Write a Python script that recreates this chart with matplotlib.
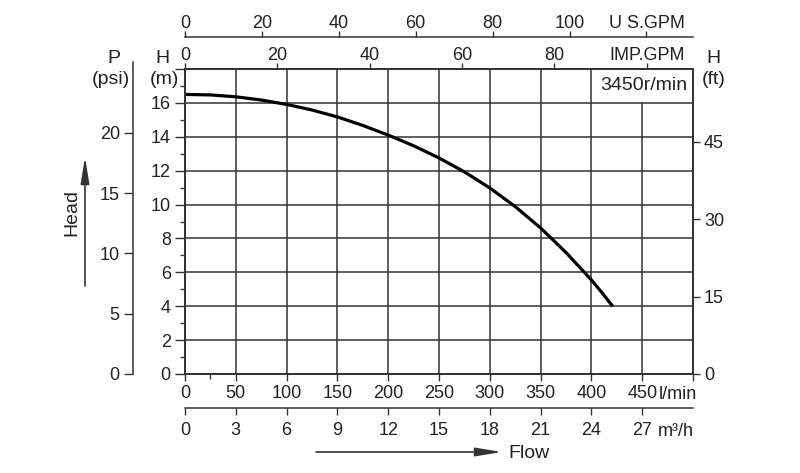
import matplotlib.pyplot as plt
from matplotlib.patches import Rectangle

plt.rcParams['font.family'] = ['Liberation Sans', 'DejaVu Sans']

# pump curve (flow in l/min, head in m)
flow_lpm = [0, 25, 50, 75, 100, 125, 150, 175, 200, 225, 250, 275, 300,
            325, 350, 375, 400, 410, 420]
head_m = [16.5, 16.47, 16.36, 16.17, 15.91, 15.58, 15.17, 14.67, 14.1, 13.47,
          12.75, 11.93, 10.98, 9.88, 8.62, 7.17, 5.55, 4.83, 4.07]

lpm_ticks = list(range(0, 501, 50))
lpm_labels = [str(v) for v in lpm_ticks[:-1]] + ['']
m3h_ticks = list(range(0, 28, 3))
head_ticks = list(range(0, 19, 2))
head_labels = [str(v) for v in head_ticks[:-1]] + ['']
psi_ticks = [0, 5, 10, 15, 20]
ft_ticks = [0, 15, 30, 45]
us_ticks = [0, 20, 40, 60, 80, 100, 120]
us_labels = ['0', '20', '40', '60', '80', '100', 'U S.GPM']
imp_ticks = [0, 20, 40, 60, 80, 100]
imp_labels = ['0', '20', '40', '60', '80', 'IMP.GPM']
speed = '3450r/min'

L_PER_USGAL = 3.785
L_PER_IMPGAL = 4.546
M_PER_FT = 0.3048
PSI_PER_M = 1.405

LINE = '#333333'
TXT = '#222222'
FS = 13

W, H = 800, 473
fig = plt.figure(figsize=(8, 4.73), dpi=100)


def fx(px):
    return px / W


def fy(py):
    return 1 - py / H


x0, x1, y0, y1 = 185, 693, 374, 69
ax = fig.add_axes([fx(x0), fy(y0), (x1 - x0) / W, (y0 - y1) / H])
ax.set_xlim(0, 500)
ax.set_ylim(0, 18)
ax.set_xticks(lpm_ticks, lpm_labels)
ax.set_yticks(head_ticks, head_labels)
ax.set_xticks([25], minor=True)
ax.set_yticks(range(1, 18, 2), minor=True)
ax.grid(True, which='major', color=LINE, lw=1.1)
ax.tick_params(which='major', direction='out', color=LINE, labelcolor=TXT,
               labelsize=FS, width=1)
ax.tick_params(axis='y', which='major', length=7.2, pad=3)
ax.tick_params(axis='x', which='major', length=5, pad=3)
ax.tick_params(which='minor', direction='out', color=LINE, length=3.5, width=1)
for s in ax.spines.values():
    s.set_color(LINE)
    s.set_linewidth(1.1)

ax.add_patch(Rectangle((401, 16.06), 98, 1.88, fc='white', ec='none', zorder=2))
ax.text(494, 17.0, speed, ha='right', va='center', fontsize=14, color=TXT, zorder=3)
ax.plot(flow_lpm, head_m, color='black', lw=2.3, zorder=4)

# right axis: head in ft
ax_ft = ax.twinx()
ax_ft.set_ylim(0, 18 / M_PER_FT)
ax_ft.set_yticks(ft_ticks)
ax_ft.tick_params(axis='y', direction='out', length=5, width=1, color=LINE,
                  labelcolor=TXT, labelsize=FS, pad=3)
for s in ax_ft.spines.values():
    s.set_color(LINE)
    s.set_linewidth(1.1)

# top axis: imperial gpm on the frame
ax_imp = ax.twiny()
ax_imp.set_xlim(0, 500 / L_PER_IMPGAL)
ax_imp.set_xticks(imp_ticks, imp_labels)
ax_imp.tick_params(axis='x', direction='out', length=4.3, width=1, color=LINE,
                   labelcolor=TXT, labelsize=FS, pad=-1)
for s in ax_imp.spines.values():
    s.set_color(LINE)
    s.set_linewidth(1.1)

# top axis: US gpm, offset upward
ax_us = ax.twiny()
ax_us.set_xlim(0, 500 / L_PER_USGAL)
ax_us.set_xticks(us_ticks, us_labels)
ax_us.spines['top'].set_position(('outward', 32 * 0.72))
for k in ['left', 'right', 'bottom']:
    ax_us.spines[k].set_visible(False)
ax_us.spines['top'].set_color(LINE)
ax_us.spines['top'].set_linewidth(1.1)
ax_us.tick_params(axis='x', direction='out', length=4.3, width=1, color=LINE,
                  labelcolor=TXT, labelsize=FS, pad=-1)

# bottom axis: m3/h, offset downward
ax_m3 = ax.twiny()
ax_m3.set_xlim(0, 30)
ax_m3.xaxis.set_ticks_position('bottom')
ax_m3.xaxis.set_label_position('bottom')
ax_m3.set_xticks(m3h_ticks)
ax_m3.spines['bottom'].set_position(('outward', 34 * 0.72))
for k in ['left', 'right', 'top']:
    ax_m3.spines[k].set_visible(False)
ax_m3.spines['bottom'].set_color(LINE)
ax_m3.spines['bottom'].set_linewidth(1.1)
ax_m3.tick_params(axis='x', direction='out', length=5, width=1, color=LINE,
                  labelcolor=TXT, labelsize=FS, pad=5)

# left axis: pressure in psi
top_p = 62
ext_m = 18 * (y0 - top_p) / (y0 - y1)
ax_p = fig.add_axes([fx(133), fy(y0), 0.01, (y0 - top_p) / H])
ax_p.patch.set_visible(False)
ax_p.set_ylim(0, ext_m * PSI_PER_M)
ax_p.set_yticks(psi_ticks)
ax_p.set_xticks([])
for k in ['right', 'top', 'bottom']:
    ax_p.spines[k].set_visible(False)
ax_p.spines['left'].set_color(LINE)
ax_p.spines['left'].set_linewidth(1.1)
ax_p.tick_params(axis='y', direction='out', length=6.5, width=1, color=LINE,
                 labelcolor=TXT, labelsize=FS, pad=3)

# axis captions
def label(px, py, s, size=14, **kw):
    fig.text(fx(px), fy(py), s, ha='center', va='center', fontsize=size, color=TXT, **kw)


label(114, 58, 'P')
label(111, 80, '(psi)')
label(162, 58, 'H')
label(164, 80, '(m)')
label(713, 58, 'H')
label(714, 80, '(ft)')
fig.text(fx(659), fy(394), 'l/min', ha='left', va='center', fontsize=FS, color=TXT)
fig.text(fx(658), fy(431), 'm³/h', ha='left', va='center', fontsize=FS, color=TXT)
label(72, 212, 'Head', size=14, rotation=90)
fig.text(fx(508), fy(453), 'Flow', ha='left', va='center', fontsize=14, color=TXT)

arrow = dict(arrowstyle='-|>,head_length=0.8,head_width=0.13', mutation_scale=20,
             color=LINE, lw=1.2, shrinkA=0, shrinkB=0)
ax.annotate('', xy=(fx(85), fy(157)), xytext=(fx(85), fy(286)),
            xycoords='figure fraction', textcoords='figure fraction', arrowprops=arrow)
ax.annotate('', xy=(fx(502), fy(452)), xytext=(fx(316), fy(452)),
            xycoords='figure fraction', textcoords='figure fraction', arrowprops=arrow)

fig.savefig('out.png', dpi=100)
